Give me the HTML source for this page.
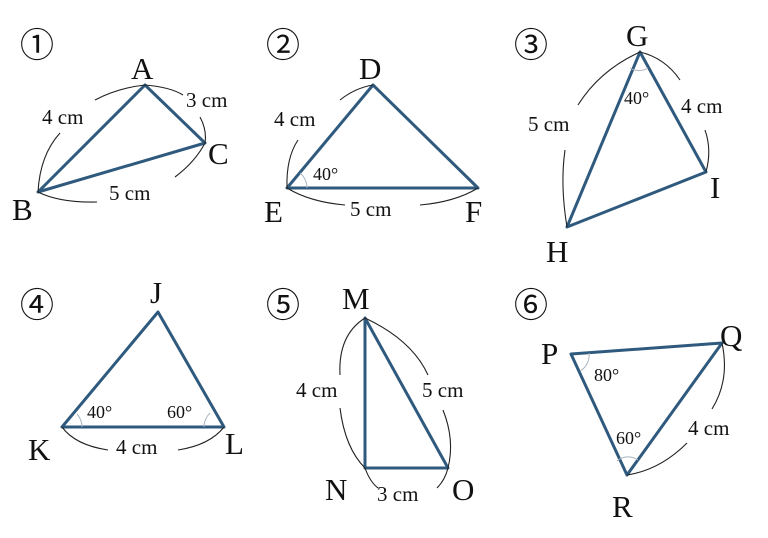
<!DOCTYPE html>
<html><head><style>body{margin:0;background:#fff}svg{display:block}</style></head><body>
<svg width="768" height="538" viewBox="0 0 768 538" font-family="Liberation Serif, serif">
<g fill="none" stroke="#2f5a7e" stroke-width="3" stroke-linejoin="round">
<polygon points="145,85 38,192 205,143"/>
<polygon points="373,85 287,188 478,188"/>
<polygon points="640,52 567,227 706,172"/>
<polygon points="158,312 62,427 224,427"/>
<polygon points="365,318 365,468 448,468"/>
<polygon points="571,354 722,343 627,475"/>
</g>
<g fill="none" stroke="#222" stroke-width="1.1">
<path d="M38,192 Q40,155 60,133"/><path d="M95,100 Q118,88 145,85"/>
<path d="M145,85 Q170,87 183,95"/><path d="M200,117 Q207,130 205,143"/>
<path d="M38,192 Q60,203 97,202"/><path d="M175,177 Q195,162 205,143"/>
<path d="M287,188 Q286,158 298,140"/><path d="M340,100 Q355,88 373,85"/>
<path d="M287,188 Q310,202 345,205"/><path d="M420,205 Q455,202 478,188"/>
<path d="M567,227 Q560,185 565,150"/><path d="M578,105 Q600,70 640,52"/>
<path d="M640,52 Q665,58 680,80"/><path d="M705,130 Q712,150 706,172"/>
<path d="M62,427 Q75,445 108,450"/><path d="M178,450 Q210,445 224,427"/>
<path d="M365,318 Q338,335 340,375"/><path d="M340,408 Q345,448 365,468"/>
<path d="M365,318 Q412,340 428,375"/><path d="M443,410 Q455,440 448,468"/>
<path d="M365,468 Q370,482 378,488"/><path d="M437,488 Q445,480 448,468"/>
<path d="M722,343 Q730,380 712,409"/><path d="M687,443 Q660,470 627,475"/>
</g>
<g fill="none" stroke="#aab4bf" stroke-width="1">
<path d="M307,188 A20,20 0 0 0 300,173"/>
<path d="M630,68 A17,17 0 0 0 648,68"/>
<path d="M82,427 A20,20 0 0 0 77,414"/>
<path d="M204,427 A20,20 0 0 1 210,413"/>
<path d="M580,371 A18,18 0 0 0 589,353"/>
<path d="M617,461 A17,17 0 0 1 638,460"/>
</g>
<g fill="#111" font-size="31">
<text x="131" y="79">A</text><text x="12" y="220">B</text><text x="208" y="164">C</text>
<text x="359" y="79">D</text><text x="264" y="222">E</text><text x="465" y="222">F</text>
<text x="626" y="46">G</text><text x="546" y="262">H</text><text x="710" y="198">I</text>
<text x="150" y="303">J</text><text x="28" y="460">K</text><text x="225" y="454">L</text>
<text x="342" y="309">M</text><text x="325" y="500">N</text><text x="452" y="500">O</text>
<text x="541" y="364">P</text><text x="720" y="346">Q</text><text x="612" y="517">R</text>
</g>
<g fill="#111" font-size="21">
<text x="42" y="124">4 cm</text><text x="186" y="107">3 cm</text><text x="109" y="200">5 cm</text>
<text x="274" y="126">4 cm</text><text x="350" y="216">5 cm</text>
<text x="528" y="131">5 cm</text><text x="681" y="113">4 cm</text>
<text x="116" y="454">4 cm</text>
<text x="296" y="397">4 cm</text><text x="422" y="397">5 cm</text><text x="377" y="501">3 cm</text>
<text x="688" y="435">4 cm</text>
</g>
<g fill="#111" font-size="18">
<text x="313" y="180">40°</text><text x="624" y="104">40°</text>
<text x="87" y="418">40°</text><text x="167" y="418">60°</text>
<text x="594" y="381">80°</text><text x="616" y="444">60°</text>
</g>
<g fill="#111" font-size="34" font-family="Noto Sans CJK JP, DejaVu Sans, sans-serif">
<text x="20" y="57">①</text><text x="266" y="57">②</text><text x="514" y="57">③</text>
<text x="20" y="317">④</text><text x="266" y="317">⑤</text><text x="514" y="317">⑥</text>
</g>
</svg>
</body></html>
